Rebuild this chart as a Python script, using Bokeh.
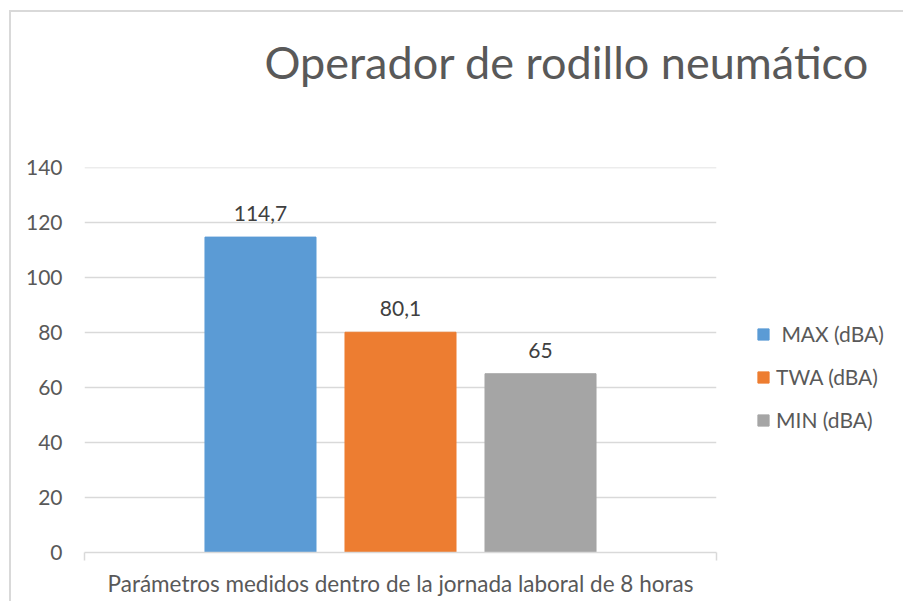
from bokeh.plotting import figure
from bokeh.models import (ColumnDataSource, Range1d, FixedTicker, LabelSet, Legend,
                          LegendItem, Title)
from bokeh.core.properties import value
from bokeh.embed import file_html
from bokeh.resources import INLINE

# ---- data ----
title_text = "Operador de rodillo neumático"
group_label = "Parámetros medidos dentro de la jornada laboral de 8 horas"
series = [" MAX (dBA)", "TWA (dBA)", "MIN (dBA)"]
values = [114.7, 80.1, 65]
colors = ["#5B9BD5", "#ED7D31", "#A5A5A5"]
y_ticks = [0, 20, 40, 60, 80, 100, 120, 140]

FONT = "Lato"
TXT = "#595959"

idx = list(range(len(series)))
center = (len(series) - 1) / 2
half_span = 2.257
x_lo, x_hi = center - half_span, center + half_span

src = ColumnDataSource(dict(
    x=idx,
    top=values,
    color=colors,
    name=series,
    lab=[("%g" % v).replace(".", ",") for v in values],
))

p = figure(frame_width=632, frame_height=385, output_backend="svg",
           toolbar_location=None,
           x_range=Range1d(x_lo, x_hi), y_range=Range1d(0, 140.01),
           min_border_left=84, min_border_right=179, min_border_top=167,
           min_border_bottom=49)
p.outline_line_color = None
p.background_fill_color = "white"
p.border_fill_alpha = 0
p.styles = {
    "background-color": "white",
    "background-image": "linear-gradient(#d9d9d9, #d9d9d9), linear-gradient(#d9d9d9, #d9d9d9)",
    "background-size": "100% 2px, 2px 100%",
    "background-position": "9px 10px, 9px 10px",
    "background-repeat": "no-repeat",
}

r = p.vbar(x="x", top="top", width=0.793, color="color", source=src)

labels = LabelSet(x="x", y="top", text="lab", source=src, text_align="center",
                  text_baseline="bottom", y_offset=16, text_font=value(FONT),
                  text_font_size="21px", text_color="#404040")
p.add_layout(labels)

# title (outermost) and a blank spacer title between it and the plot area
p.title.text = title_text
p.title.text_font = FONT
p.title.text_font_size = "45px"
p.title.text_font_style = "normal"
p.title.text_color = TXT
p.title.align = "left"
p.title.offset = 180
p.title.standoff = 0

spacer = Title(text=" ", text_font=FONT, text_font_size="20px", standoff=53)
p.add_layout(spacer, "above")

# y axis
p.yaxis.ticker = FixedTicker(ticks=y_ticks)
p.yaxis.axis_line_color = None
p.yaxis.major_tick_line_color = None
p.yaxis.minor_tick_line_color = None
p.yaxis.major_label_text_font = FONT
p.yaxis.major_label_text_font_size = "21px"
p.yaxis.major_label_text_color = TXT
p.yaxis.major_label_standoff = 16

# x axis
p.xaxis.ticker = FixedTicker(ticks=[center], minor_ticks=[x_lo + 1e-6, x_hi - 1e-6])
p.xaxis.major_label_overrides = {center: group_label}
p.xaxis.axis_line_color = "#D9D9D9"
p.xaxis.axis_line_width = 1.5
p.xaxis.major_tick_line_color = None
p.xaxis.minor_tick_line_color = "#D9D9D9"
p.xaxis.minor_tick_line_width = 1.5
p.xaxis.minor_tick_out = 8
p.xaxis.minor_tick_in = 0
p.xaxis.major_label_text_font = FONT
p.xaxis.major_label_text_font_size = "22.5px"
p.xaxis.major_label_text_color = TXT
p.xaxis.major_label_standoff = 9

p.xgrid.visible = False
p.ygrid.ticker = FixedTicker(ticks=y_ticks[1:])
p.ygrid.grid_line_color = "#D9D9D9"
p.ygrid.grid_line_width = 1.5

# legend
items = [LegendItem(label=series[i], renderers=[r], index=i) for i in idx]
legend = Legend(items=items, location=(40, 120), orientation="vertical",
                label_text_font=FONT, label_text_font_size="21px",
                label_text_color=TXT, glyph_width=14, glyph_height=14,
                label_height=24, label_standoff=6, spacing=18, padding=0,
                margin=0, background_fill_alpha=0, border_line_color=None)
p.add_layout(legend, "right")

open("out.html", "w").write(file_html(p, INLINE))
